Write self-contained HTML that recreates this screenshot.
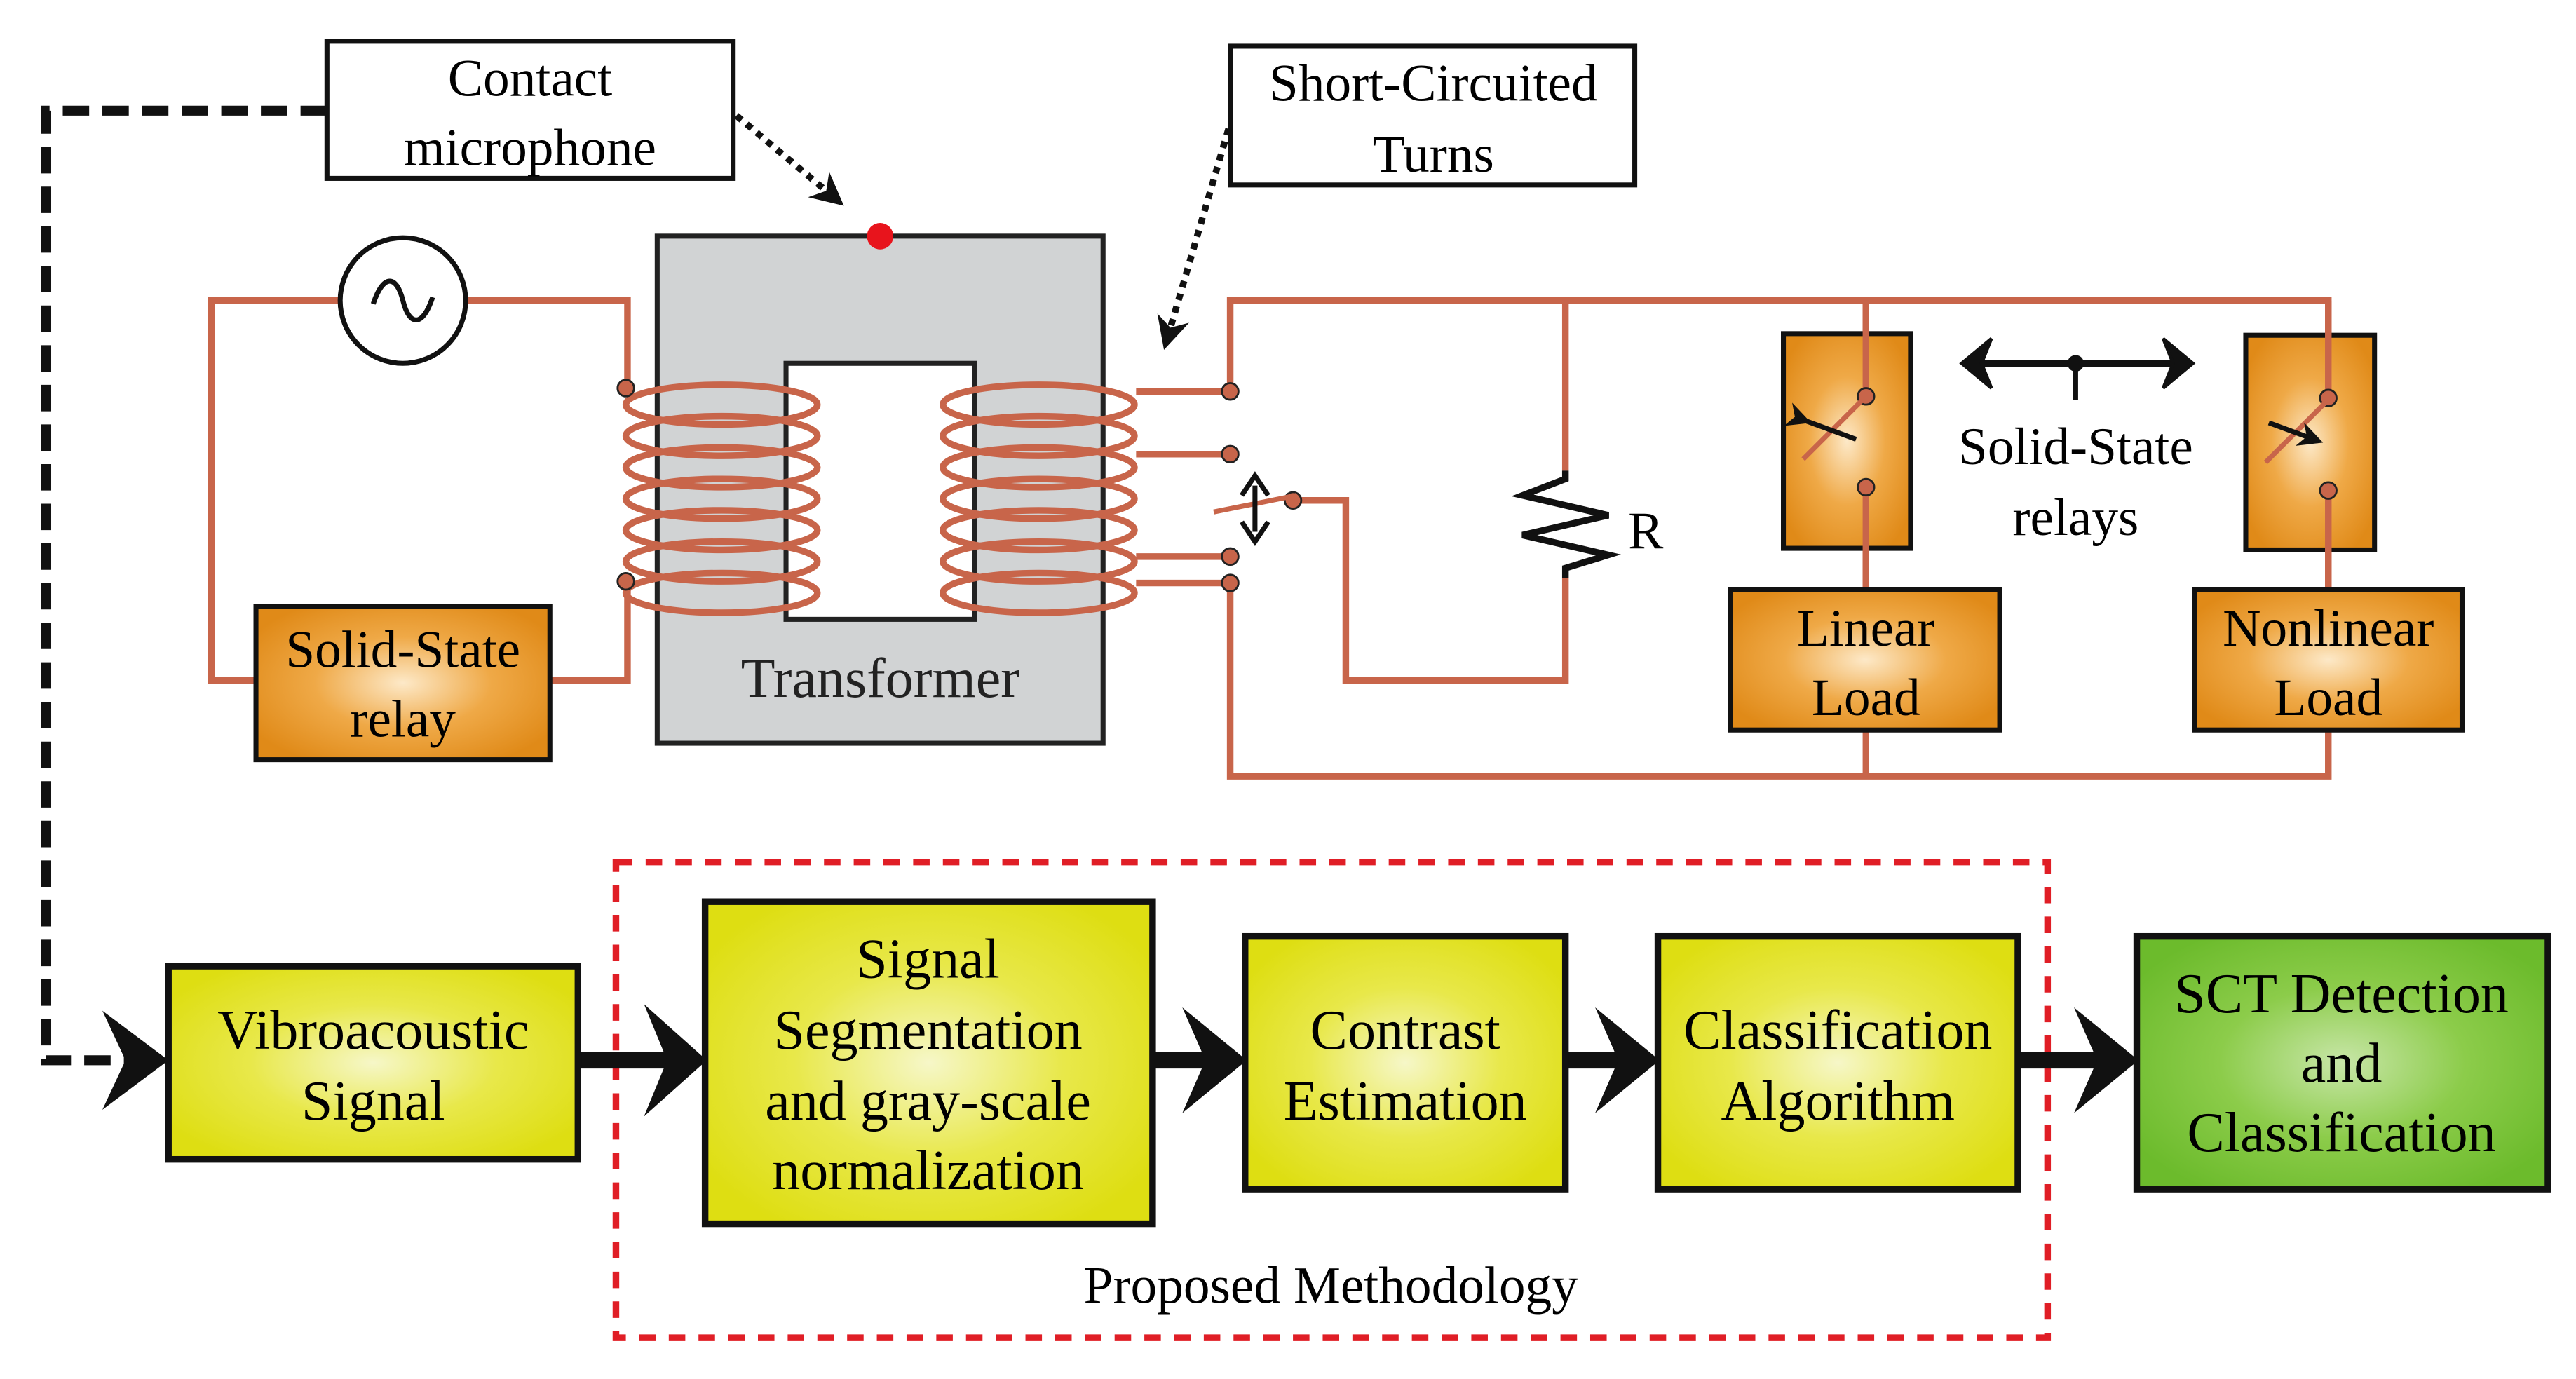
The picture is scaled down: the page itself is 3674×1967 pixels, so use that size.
<!DOCTYPE html>
<html><head><meta charset="utf-8"><style>html,body{margin:0;padding:0;background:#fff}svg{display:block}</style></head>
<body>
<svg width="3674" height="1967" viewBox="0 0 1560 835" preserveAspectRatio="none" xmlns="http://www.w3.org/2000/svg" font-family="Liberation Serif, serif">
<defs>
<radialGradient id="og" cx="50%" cy="50%" r="60%"><stop offset="0" stop-color="#fde9c8"/><stop offset="0.5" stop-color="#efa947"/><stop offset="1" stop-color="#e08a18"/></radialGradient>
<radialGradient id="yg" cx="50%" cy="50%" r="60%"><stop offset="0" stop-color="#f6f7c8"/><stop offset="0.5" stop-color="#e8e84a"/><stop offset="1" stop-color="#dede12"/></radialGradient>
<radialGradient id="gg" cx="50%" cy="50%" r="60%"><stop offset="0" stop-color="#c8e6a8"/><stop offset="0.5" stop-color="#8ccc4a"/><stop offset="1" stop-color="#6cbb2c"/></radialGradient>
<marker id="ah" viewBox="0 0 10 10" refX="8" refY="5" markerWidth="5" markerHeight="5" orient="auto"><path d="M0,0 L10,5 L0,10 L3,5z" fill="#111"/></marker>
</defs>
<rect width="1560" height="835" fill="#fff"/>
<g fill="none" stroke="#c8654a" stroke-width="4">
<path d="M206,182 H128 V412 H155"/>
<path d="M282,182 H380 V235"/>
<path d="M333,412 H380 V352"/>
<path d="M745,237 V182 H1410 V202"/>
<path d="M948,182 V285"/>
<path d="M948,350 V412 H815 V303 H785"/>
<path d="M745,353 V470 H1410 V442"/>
<path d="M1130,182 V357 M1410,202 V357 M1130,442 V470"/>
<path d="M688,237 H745 M688,275 H745 M688,337 H745 M688,353 H745"/>
</g>
<rect x="398" y="143" width="270" height="307" fill="#d1d3d4" stroke="#222" stroke-width="3"/>
<rect x="476" y="220" width="114" height="155" fill="#fff" stroke="#222" stroke-width="3"/>
<g fill="none" stroke="#c8654a" stroke-width="4">
<ellipse cx="437" cy="245" rx="58" ry="12"/><ellipse cx="437" cy="264" rx="58" ry="12"/><ellipse cx="437" cy="283" rx="58" ry="12"/><ellipse cx="437" cy="302" rx="58" ry="12"/><ellipse cx="437" cy="321" rx="58" ry="12"/><ellipse cx="437" cy="340" rx="58" ry="12"/><ellipse cx="437" cy="359" rx="58" ry="12"/>
<ellipse cx="629" cy="245" rx="58" ry="12"/><ellipse cx="629" cy="264" rx="58" ry="12"/><ellipse cx="629" cy="283" rx="58" ry="12"/><ellipse cx="629" cy="302" rx="58" ry="12"/><ellipse cx="629" cy="321" rx="58" ry="12"/><ellipse cx="629" cy="340" rx="58" ry="12"/><ellipse cx="629" cy="359" rx="58" ry="12"/>
</g>
<g fill="#c8654a" stroke="#222" stroke-width="1.2">
<circle cx="379" cy="235" r="5"/><circle cx="379" cy="352" r="5"/>
<circle cx="745" cy="237" r="5"/><circle cx="745" cy="275" r="5"/><circle cx="745" cy="337" r="5"/><circle cx="745" cy="353" r="5"/><circle cx="783" cy="303" r="5"/>
</g>
<path d="M735,310 L785,300" stroke="#c8654a" stroke-width="3"/>
<path d="M760,294 V322" stroke="#111" stroke-width="3"/>
<path d="M752,300 L760,288 L768,300 M752,316 L760,328 L768,316" fill="none" stroke="#111" stroke-width="3"/>
<text x="533" y="422" font-size="34" text-anchor="middle" fill="#222">Transformer</text>
<circle cx="533" cy="143" r="8" fill="#e8141c"/>
<circle cx="244" cy="182" r="38" fill="#fff" stroke="#111" stroke-width="3"/>
<path d="M226,184 C232,166 240,166 244,182 C248,198 256,198 262,180" fill="none" stroke="#111" stroke-width="3"/>
<rect x="155" y="367" width="178" height="93" fill="url(#og)" stroke="#111" stroke-width="3"/>
<text x="244" y="404" font-size="32" text-anchor="middle">Solid-State</text>
<text x="244" y="446" font-size="32" text-anchor="middle">relay</text>
<path d="M948,285 L948,290 L922,300 L974,312 L922,324 L974,336 L948,344 V350" fill="none" stroke="#111" stroke-width="4"/>
<text x="986" y="332" font-size="32">R</text>
<rect x="1080" y="202" width="77" height="130" fill="url(#og)" stroke="#111" stroke-width="3"/>
<rect x="1360" y="203" width="78" height="130" fill="url(#og)" stroke="#111" stroke-width="3"/>
<g stroke="#c8654a" stroke-width="4"><path d="M1130,182 V240 M1130,295 V357 M1410,182 V241 M1410,297 V357"/></g>
<g fill="#c8654a" stroke="#222" stroke-width="1.2"><circle cx="1130" cy="240" r="5"/><circle cx="1130" cy="295" r="5"/><circle cx="1410" cy="241" r="5"/><circle cx="1410" cy="297" r="5"/></g>
<path d="M1092,278 L1128,242 M1372,280 L1408,244" stroke="#c8654a" stroke-width="3"/>
<path d="M1094,255 L1124,266 M1374,256 L1404,267" stroke="#111" stroke-width="3" marker-start="url(#ah)" marker-end="url(#ah)"/>
<path d="M1200,220 H1316" stroke="#111" stroke-width="4"/>
<path d="M1206,205 L1188,220 L1206,235 L1200,220z M1310,205 L1328,220 L1310,235 L1316,220z" fill="#111" stroke="#111" stroke-width="2"/>
<path d="M1257,220 V242" stroke="#111" stroke-width="3"/><circle cx="1257" cy="220" r="5" fill="#111"/>
<text x="1257" y="281" font-size="32" text-anchor="middle">Solid-State</text>
<text x="1257" y="324" font-size="32" text-anchor="middle">relays</text>
<rect x="1048" y="357" width="163" height="85" fill="url(#og)" stroke="#111" stroke-width="3"/>
<text x="1130" y="391" font-size="32" text-anchor="middle">Linear</text>
<text x="1130" y="433" font-size="32" text-anchor="middle">Load</text>
<rect x="1329" y="357" width="162" height="85" fill="url(#og)" stroke="#111" stroke-width="3"/>
<text x="1410" y="391" font-size="32" text-anchor="middle">Nonlinear</text>
<text x="1410" y="433" font-size="32" text-anchor="middle">Load</text>
<rect x="198" y="25" width="246" height="83" fill="#fff" stroke="#111" stroke-width="3"/>
<text x="321" y="58" font-size="32" text-anchor="middle">Contact</text>
<text x="321" y="100" font-size="32" text-anchor="middle">microphone</text>
<rect x="745" y="28" width="245" height="84" fill="#fff" stroke="#111" stroke-width="3"/>
<text x="868" y="61" font-size="32" text-anchor="middle">Short-Circuited</text>
<text x="868" y="104" font-size="32" text-anchor="middle">Turns</text>
<path d="M198,67 H28 V642 H92" fill="none" stroke="#111" stroke-width="6" stroke-dasharray="16,8"/>
<path d="M446,70 L508,122" stroke="#111" stroke-width="4" stroke-dasharray="4,4" marker-end="url(#ah)"/>
<path d="M744,78 L706,208" stroke="#111" stroke-width="4" stroke-dasharray="4,4" marker-end="url(#ah)"/>
<rect x="373" y="522" width="867" height="288" fill="none" stroke="#e01e26" stroke-width="4" stroke-dasharray="10,8"/>
<text x="806" y="789" font-size="32" text-anchor="middle">Proposed Methodology</text>
<g stroke="#111" stroke-width="10"><path d="M350,642 H410 M698,642 H735 M948,642 H985 M1222,642 H1275"/></g>
<g fill="#111"><path d="M62,612 L102,642 L62,672 L76,642z"/><path d="M390,608 L428,642 L390,676 L404,642z"/><path d="M716,610 L755,642 L716,674 L730,642z"/><path d="M966,610 L1005,642 L966,674 L980,642z"/><path d="M1256,610 L1295,642 L1256,674 L1270,642z"/></g>
<rect x="102" y="585" width="248" height="117" fill="url(#yg)" stroke="#111" stroke-width="4"/>
<text x="226" y="635" font-size="34" text-anchor="middle">Vibroacoustic</text>
<text x="226" y="678" font-size="34" text-anchor="middle">Signal</text>
<rect x="427" y="546" width="271" height="195" fill="url(#yg)" stroke="#111" stroke-width="4"/>
<text x="562" y="592" font-size="34" text-anchor="middle">Signal</text>
<text x="562" y="635" font-size="34" text-anchor="middle">Segmentation</text>
<text x="562" y="678" font-size="34" text-anchor="middle">and gray-scale</text>
<text x="562" y="720" font-size="34" text-anchor="middle">normalization</text>
<rect x="754" y="567" width="194" height="153" fill="url(#yg)" stroke="#111" stroke-width="4"/>
<text x="851" y="635" font-size="34" text-anchor="middle">Contrast</text>
<text x="851" y="678" font-size="34" text-anchor="middle">Estimation</text>
<rect x="1004" y="567" width="218" height="153" fill="url(#yg)" stroke="#111" stroke-width="4"/>
<text x="1113" y="635" font-size="34" text-anchor="middle">Classification</text>
<text x="1113" y="678" font-size="34" text-anchor="middle">Algorithm</text>
<rect x="1294" y="567" width="249" height="153" fill="url(#gg)" stroke="#111" stroke-width="4"/>
<text x="1418" y="613" font-size="34" text-anchor="middle">SCT Detection</text>
<text x="1418" y="655" font-size="34" text-anchor="middle">and</text>
<text x="1418" y="697" font-size="34" text-anchor="middle">Classification</text>
</svg>
</body></html>
